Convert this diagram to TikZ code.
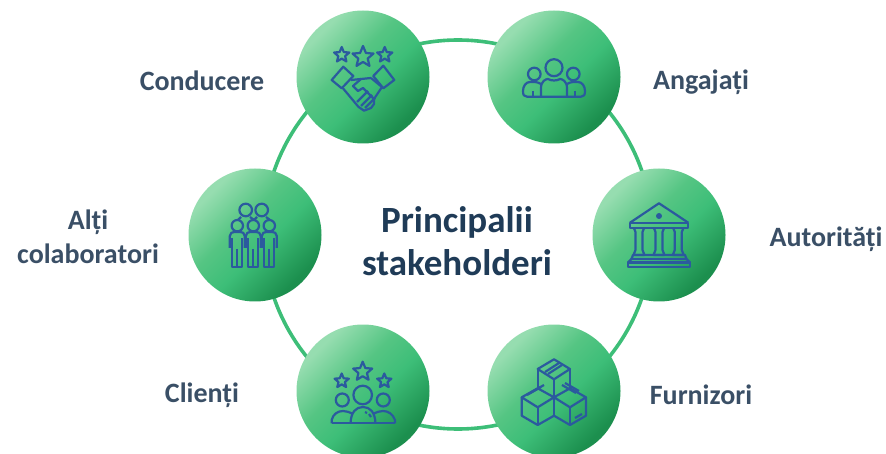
\documentclass[tikz,border=0pt]{standalone}
\usepackage{fontspec}
\setmainfont{Carlito}
\usetikzlibrary{positioning}
\definecolor{ringgreen}{HTML}{3DBE78}
\definecolor{iconblue}{HTML}{2B5A9E}
\definecolor{labelslate}{HTML}{3A4F66}
\definecolor{titleslate}{HTML}{1F3B57}
\definecolor{greenlight}{HTML}{96DDB0}
\definecolor{greenmid}{HTML}{55C583}
\definecolor{greendark}{HTML}{1C8F4E}
\pgfdeclareverticalshading{stakegreen}{100bp}{color(0bp)=(greendark); color(27bp)=(greendark); color(45bp)=(ringgreen); color(57bp)=(greenmid); color(73bp)=(greenlight); color(100bp)=(greenlight)}
\tikzset{
  stakeholder/.style={circle,minimum size=133pt,inner sep=0pt,shading=stakegreen,shading angle=45},
  stakelabel/.style={font=\fontsize{28}{34}\selectfont\bfseries,text=labelslate,align=center},
  ringline/.style={draw=ringgreen,line width=3.6pt},
  iconline/.style={draw=iconblue,line width=2.2pt,line join=round,fill=none}
}
% star of the given radius, centred at the given point
\newcommand{\iconstar}[3]{
\draw[iconline] (#1,#2) +(90:#3pt) -- +(126:0.45*#3pt) -- +(162:#3pt) -- +(198:0.45*#3pt) -- +(234:#3pt) -- +(270:0.45*#3pt) -- +(306:#3pt) -- +(342:0.45*#3pt) -- +(18:#3pt) -- +(54:0.45*#3pt) -- cycle;
}
\begin{document}
\begin{tikzpicture}[x=1pt,y=-1pt]
\clip (0,0) rectangle (886,454);

\coordinate (ringc) at (458,234.5);
\draw[ringline] (ringc) circle (194.5pt);

\node[stakeholder] (conducere) at (363,77) {};
\node[stakeholder] (angajati) at (554,77) {};
\node[stakeholder] (colab) at (255,235) {};
\node[stakeholder] (autoritati) at (659,235) {};
\node[stakeholder] (clienti) at (363,391) {};
\node[stakeholder] (furnizori) at (554,391) {};

\node[font=\fontsize{37}{43}\selectfont\bfseries,text=titleslate,align=center] (title) at (457,241) {Principalii\\stakeholderi};

\node[stakelabel] (lconducere) at (202,81) {Conducere};
\node[stakelabel] (langajati) at (701,82) {Angajați};
\node[stakelabel] (lcolab) at (88,237) {Alți\\colaboratori};
\node[stakelabel] (lautoritati) at (826,239) {Autorități};
\node[stakelabel] (lclienti) at (202,395) {Clienți};
\node[stakelabel] (lfurnizori) at (701,395) {Furnizori};

% handshake
\begin{scope}[shift={(conducere)}]
\iconstar{-21.3}{-22}{8}
\iconstar{0}{-20}{11}
\iconstar{21.7}{-22}{8}
\draw[iconline] (-19.7,-10.3) -- (-9.7,-1) -- (-21.3,11.3) -- (-31.3,3) -- cycle;
\draw[iconline] (20.3,-11.3) -- (31.3,3) -- (20.3,11.3) -- (10.3,-1) -- cycle;
\draw[iconline] (-20,11.3) -- (-4.7,29.7) -- (1,33.7) -- (8,31) -- (11,27) -- (11,22) -- (0,11) -- (-5,14) -- (-10,9) -- (-2,2) -- (8,1);
\draw[iconline] (-12,3) -- (-2,2);
\draw[iconline] (8,1) -- (19,10);
\draw[iconline] (19,10) -- (11,22);
\draw[iconline] (-2,29) -- (9,18);
\draw[iconline] (2,31) -- (12,21);
\draw[iconline] (-6,25) -- (5,14);
\end{scope}

% team
\begin{scope}[shift={(angajati)}]
\draw[iconline] (0,-9.3) circle (8.5pt);
\draw[iconline] (-19.7,-3) circle (6.3pt);
\draw[iconline] (19.3,-3) circle (6.3pt);
\draw[iconline] (-13,19.7) -- (-13,11) .. controls (-13,4) and (-8,2) .. (-6,2) .. controls (-3,4) and (3,4) .. (6,2) .. controls (8,2) and (13,4) .. (13,11) -- (13,19.7);
\draw[iconline] (-13,7) .. controls (-15,6) and (-17,5) .. (-19,5) -- (-24,5) .. controls (-28,5) and (-31,9) .. (-31,14) .. controls (-31,18) and (-30,19.7) .. (-27,19.7) -- (27,19.7) .. controls (30,19.7) and (31,18) .. (31,14) .. controls (31,9) and (28,5) .. (24,5) -- (19,5) .. controls (17,5) and (15,6) .. (13,7);
\draw[iconline] (-21,14) -- (-21,19.7);
\draw[iconline] (21,14) -- (21,19.7);
\end{scope}

% group of people
\begin{scope}[shift={(colab)}]
\draw[iconline] (-9.3,-25) circle (6.3pt);
\draw[iconline] (6.7,-25) circle (6.3pt);
\draw[iconline] (-17,-15) -- (-14,-18);
\draw[iconline] (-5,-18) -- (-1,-15) -- (2,-18);
\draw[iconline] (11,-18) -- (15,-15);
\foreach \px in {-17.7,-1.7,14.3} {
\draw[iconline] (\px,-9.3) circle (5.7pt);
\draw[iconline] (\px-7.5,13) -- (\px-7.5,1) .. controls (\px-7.5,-2) and (\px-5,-3) .. (\px-3,-3) -- (\px+3,-3) .. controls (\px+5,-3) and (\px+7.5,-2) .. (\px+7.5,1) -- (\px+7.5,13);
\draw[iconline] (\px-5,3) -- (\px-5,32) -- (\px+5,32) -- (\px+5,3);
\draw[iconline] (\px,14) -- (\px,32);
}
\end{scope}

% public building
\begin{scope}[shift={(autoritati)}]
\draw[iconline] (-29,-12.3) -- (0,-31.7) -- (29.3,-12.3);
\draw[iconline] (-29,-12.3) rectangle (29.3,-6.7);
\fill[iconblue] (0,-19) circle (3pt);
\foreach \px in {-20,0,19.3} {
\draw[iconline] (\px-5,-6.7) -- (\px-3.5,-3) -- (\px-3.5,15) -- (\px-5.5,20) -- (\px+5.5,20) -- (\px+3.5,15) -- (\px+3.5,-3) -- (\px+5,-6.7);
}
\draw[iconline] (-26,20) -- (26,20) -- (27.5,24) -- (-27.5,24) -- cycle;
\draw[iconline] (-31,27.5) rectangle (31,32);
\draw[iconline] (-27.5,24) -- (-31,27.5);
\draw[iconline] (27.5,24) -- (31,27.5);
\end{scope}

% clients
\begin{scope}[shift={(clienti)}]
\iconstar{-0.3}{-19.3}{10}
\iconstar{-21.3}{-10}{7.5}
\iconstar{21.3}{-10}{7.5}
\draw[iconline] (-0.3,4) circle (9.3pt);
\draw[iconline] (-20.7,9) circle (6.5pt);
\draw[iconline] (20.3,9) circle (6.5pt);
\draw[iconline] (-31.3,32.3) -- (32,32.3);
\draw[iconline] (-12.5,32.3) .. controls (-12,21) and (-7,16) .. (0,16) .. controls (7,16) and (12,21) .. (12.5,32.3);
\draw[iconline] (-31.3,32.3) -- (-31.3,29) .. controls (-30,23) and (-25,20) .. (-20,20) .. controls (-17,20) and (-14,21) .. (-10,23);
\draw[iconline] (32,32.3) -- (32,29) .. controls (30,23) and (25,20) .. (20,20) .. controls (17,20) and (14,21) .. (10,23);
\draw[iconline] (2,21) -- (4,22);
\draw[iconline] (6,23) -- (8,26);
\end{scope}

% stacked boxes
\begin{scope}[shift={(furnizori)}]
\draw[iconline] (0,-31.7) -- (16,-22) -- (0,-11.7) -- (-16.3,-22) -- cycle;
\draw[iconline] (-16.3,-22) -- (-16.3,-2.7);
\draw[iconline] (16,-22) -- (16,-2.7);
\draw[iconline] (0,-11.7) -- (0,24.7);
\draw[iconline] (-6,-17) -- (8,-26);
\draw[iconline] (-9,-19) -- (5,-28);
\draw[iconline] (-16.3,-2.7) -- (0,6.3) -- (-16.3,16.3) -- (-32.3,6.3) -- cycle;
\draw[iconline] (-32.3,6.3) -- (-32.3,24.7) -- (-16.3,34) -- (0,24.7);
\draw[iconline] (-16.3,16.3) -- (-16.3,34);
\draw[iconline] (-24,2) -- (-10,-6);
\draw[iconline] (-27,4) -- (-13,-4);
\draw[iconline] (16,-2.7) -- (0,6.3) -- (16,16.3) -- (32,6.3) -- cycle;
\draw[iconline] (32,6.3) -- (32,24.7) -- (16,34) -- (0,24.7);
\draw[iconline] (16,16.3) -- (16,34);
\draw[iconline] (8,-6) -- (22,2);
\draw[iconline] (11,-8) -- (25,0);
\draw[iconline] (21,27) -- (28,23);
\end{scope}

\end{tikzpicture}
\end{document}
